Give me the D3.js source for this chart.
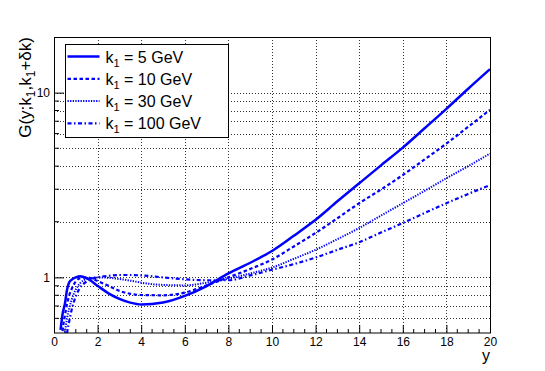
<!DOCTYPE html>
<html>
<head>
<meta charset="utf-8">
<script src="https://cdn.jsdelivr.net/npm/d3@7"></script>
<style>
  body { margin: 0; background: #fff; }
  text { font-family: "Liberation Sans", Arial, sans-serif; fill: #000; }
</style>
</head>
<body>
<div id="chart"></div>
<script>
// data
var xs = [0.3, 0.4, 0.5, 0.6, 0.7, 0.8, 1.0, 1.2, 1.5, 2, 2.5, 3, 3.5, 4, 5, 6, 7, 8, 9, 10, 11, 12, 13, 14, 15, 16, 17, 18, 19, 20];
var g5   = [0.52, 0.64, 0.72, 0.86, 0.94, 0.97, 1.0, 1.015, 0.99, 0.9, 0.82, 0.765, 0.73, 0.713, 0.731, 0.794, 0.898, 1.05, 1.2, 1.39, 1.68, 2.05, 2.58, 3.23, 4.04, 5.04, 6.41, 8.17, 10.5, 13.4];
var g10  = [0.38, 0.52, 0.62, 0.72, 0.8, 0.86, 0.95, 0.99, 1.0, 0.955, 0.9, 0.845, 0.815, 0.803, 0.8, 0.827, 0.905, 1.0, 1.11, 1.25, 1.47, 1.74, 2.09, 2.52, 2.99, 3.58, 4.35, 5.3, 6.53, 8.07];
var g30  = [0.3, 0.4, 0.5, 0.6, 0.68, 0.75, 0.86, 0.93, 0.98, 1.0, 0.995, 0.98, 0.96, 0.936, 0.91, 0.905, 0.936, 0.984, 1.05, 1.13, 1.26, 1.41, 1.61, 1.85, 2.16, 2.52, 2.94, 3.44, 4.0, 4.68];
var g100 = [0.2, 0.3, 0.4, 0.5, 0.58, 0.66, 0.79, 0.88, 0.95, 1.0, 1.02, 1.03, 1.03, 1.025, 1.0, 0.976, 0.965, 0.965, 1.025, 1.10, 1.18, 1.28, 1.41, 1.55, 1.75, 1.97, 2.23, 2.52, 2.83, 3.16];
var seriesNames = ["5", "10", "30", "100"];
var xMajorTicks = [0, 2, 4, 6, 8, 10, 12, 14, 16, 18, 20];
var yGridTicks = [0.6, 0.7, 0.8, 0.9, 1, 2, 3, 4, 5, 6, 7, 8, 9, 10];
var yLabelTicks = [1, 10];

var svgWidth = 545;
var svgHeight = 371;

var margin = { top: 37, right: 55, bottom: 38, left: 54 };
var width = svgWidth - margin.left - margin.right;
var height = svgHeight - margin.top - margin.bottom;

var svg = d3.select("#chart")
    .append("svg")
    .attr("width", svgWidth)
    .attr("height", svgHeight);

var chartGroup = svg.append("g")
    .attr("transform", `translate(${margin.left}, ${margin.top})`);

var xScale = d3.scaleLinear().domain([0, 20]).range([0, width]);
var yScale = d3.scaleLog().domain([0.5, 20]).range([height, 0]);

svg.append("defs").append("clipPath")
    .attr("id", "frame")
    .append("rect")
    .attr("width", width)
    .attr("height", height);

// grid
var grid = chartGroup.append("g")
    .attr("stroke", "#333")
    .attr("stroke-width", 1)
    .attr("stroke-dasharray", "1,2")
    .attr("shape-rendering", "crispEdges");

grid.selectAll(".vgrid")
    .data(xMajorTicks.slice(1, -1))
    .enter()
    .append("line")
    .attr("x1", d => Math.round(xScale(d)) + 0.5)
    .attr("x2", d => Math.round(xScale(d)) + 0.5)
    .attr("y1", 0)
    .attr("y2", height);

grid.selectAll(".hgrid")
    .data(yGridTicks)
    .enter()
    .append("line")
    .attr("x1", 0)
    .attr("x2", width)
    .attr("y1", d => Math.round(yScale(d)) + 0.5)
    .attr("y2", d => Math.round(yScale(d)) + 0.5);

// x axis (ticks point inward)
var xMinor = d3.range(0, 20.01, 0.5).filter(d => d % 2 !== 0);
var bottomAxis = d3.axisBottom(xScale)
    .tickValues(xMajorTicks)
    .tickSizeInner(-8)
    .tickSizeOuter(0)
    .tickPadding(4)
    .tickFormat(d3.format("d"));

var xAxis = chartGroup.append("g")
    .attr("transform", `translate(0, ${height})`)
    .call(bottomAxis);
xAxis.select(".domain").remove();
xAxis.selectAll("text").style("font-size", "12px").attr("font-family", null);

chartGroup.append("g")
    .selectAll("line")
    .data(xMinor)
    .enter()
    .append("line")
    .attr("x1", d => xScale(d))
    .attr("x2", d => xScale(d))
    .attr("y1", height)
    .attr("y2", height - 4)
    .attr("stroke", "#000");

// y axis
var leftAxis = d3.axisLeft(yScale)
    .tickValues(yLabelTicks)
    .tickSizeInner(-10)
    .tickSizeOuter(0)
    .tickPadding(4)
    .tickFormat(d3.format("d"));

var yAxis = chartGroup.append("g").call(leftAxis);
yAxis.select(".domain").remove();
yAxis.selectAll("text").style("font-size", "12px").attr("font-family", null);

chartGroup.append("g")
    .selectAll("line")
    .data(yGridTicks.filter(d => d !== 1 && d !== 10))
    .enter()
    .append("line")
    .attr("x1", 0)
    .attr("x2", 5)
    .attr("y1", d => yScale(d))
    .attr("y2", d => yScale(d))
    .attr("stroke", "#000");

// curves
var styles = [
    { width: 2.5, dash: null },
    { width: 2.2, dash: "3.5,2.5" },
    { width: 2, dash: "1.3,1.3" },
    { width: 2.2, dash: "4,2.5,1.5,2.5" }
];
var allSeries = [g5, g10, g30, g100];

var line = d3.line()
    .x((d, i) => xScale(xs[i]))
    .y(d => yScale(d))
    .curve(d3.curveMonotoneX);

chartGroup.append("g")
    .attr("clip-path", "url(#frame)")
    .selectAll("path")
    .data(allSeries)
    .enter()
    .append("path")
    .attr("d", d => line(d))
    .attr("fill", "none")
    .attr("stroke", "#0000ff")
    .attr("stroke-width", (d, i) => styles[i].width)
    .attr("stroke-dasharray", (d, i) => styles[i].dash);

// frame
chartGroup.append("rect")
    .attr("x", 0.5)
    .attr("y", 0.5)
    .attr("width", width)
    .attr("height", height - 0.5)
    .attr("fill", "none")
    .attr("stroke", "#000")
    .attr("stroke-width", 1);

// axis titles
svg.append("text")
    .attr("x", margin.left + width)
    .attr("y", 361)
    .attr("text-anchor", "end")
    .style("font-size", "16px")
    .text("y");

var yTitle = svg.append("text")
    .attr("transform", `translate(31, ${margin.top}) rotate(-90)`)
    .attr("text-anchor", "end")
    .style("font-size", "17px");
yTitle.append("tspan").text("G(y;k");
yTitle.append("tspan").attr("dy", 4).style("font-size", "12px").text("1");
yTitle.append("tspan").attr("dy", -4).text(",k");
yTitle.append("tspan").attr("dy", 4).style("font-size", "12px").text("1");
yTitle.append("tspan").attr("dy", -4).text("+\u03b4k)");

// legend
var legend = svg.append("g").attr("transform", "translate(65.5, 44.5)");
legend.append("rect")
    .attr("width", 163)
    .attr("height", 93)
    .attr("fill", "#fff")
    .attr("stroke", "#000");

var rows = legend.selectAll(".row")
    .data(seriesNames)
    .enter()
    .append("g")
    .attr("transform", (d, i) => `translate(0, ${12 + i * 22.3})`);

rows.append("line")
    .attr("x1", 2)
    .attr("x2", 34)
    .attr("stroke", "#0000ff")
    .attr("stroke-width", (d, i) => styles[i].width)
    .attr("stroke-dasharray", (d, i) => styles[i].dash);

var labels = rows.append("text")
    .attr("x", 40)
    .attr("y", 6)
    .style("font-size", "16px");
labels.append("tspan").text("k");
labels.append("tspan").attr("dy", 4).style("font-size", "11px").text("1");
labels.append("tspan").attr("dy", -4).text(d => " = " + d + " GeV");
</script>
</body>
</html>
